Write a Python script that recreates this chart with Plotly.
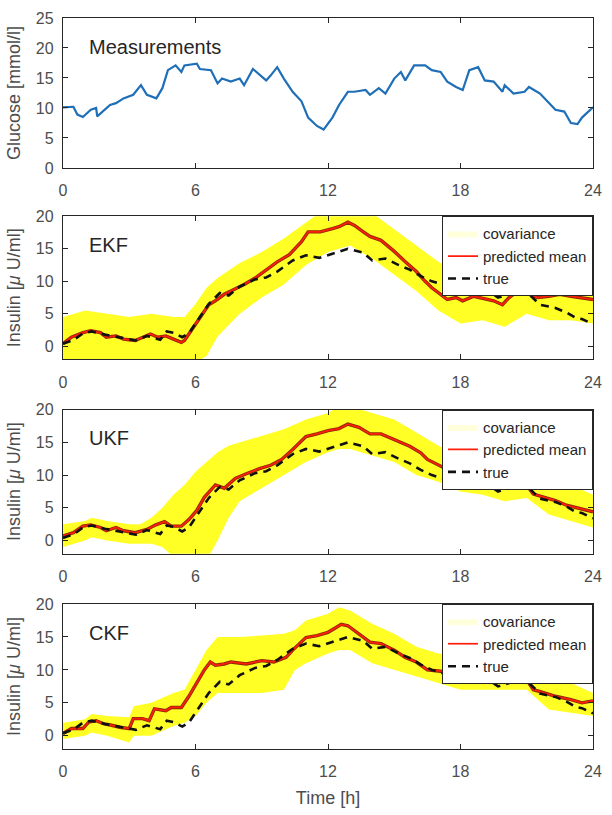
import plotly.graph_objects as go

# ---------------- data ----------------
x_ticks = [0, 6, 12, 18, 24]
x_tick_labels = ["0", "6", "12", "18", "24"]

glu_t = [0, 0.47, 0.65, 0.9, 1.26, 1.5, 1.55, 1.87, 2.13, 2.4, 2.74, 3.18, 3.53, 3.8, 4.23, 4.5, 4.75,
         5.1, 5.36, 5.5, 6.06, 6.2, 6.7, 7.0, 7.2, 7.6, 8.0, 8.2, 8.6, 9.2, 9.4, 9.7, 10.0, 10.4, 10.8,
         11.1, 11.5, 11.8, 12.2, 12.5, 12.9, 13.2, 13.7, 13.9, 14.3, 14.6, 15.0, 15.3, 15.5, 15.9, 16.4,
         16.7, 17.1, 17.4, 17.8, 18.1, 18.4, 18.8, 19.1, 19.5, 19.9, 20.0, 20.4, 20.9, 21.1, 21.6, 21.96,
         22.3, 22.7, 23.0, 23.3, 23.5, 24]
glucose = [10.1, 10.2, 8.9, 8.5, 9.7, 10.0, 8.6, 9.7, 10.5, 10.8, 11.6, 12.2, 13.8, 12.2, 11.6, 13.3, 16.3,
           17.1, 16.0, 17.1, 17.4, 16.5, 16.3, 14.1, 14.9, 14.4, 14.9, 13.8, 16.5, 14.6, 15.4, 16.8, 14.9, 12.7, 11.1,
           8.4, 7.0, 6.4, 8.4, 10.5, 12.7, 12.7, 13.0, 12.2, 13.3, 12.4, 14.9, 16.0, 14.6, 17.1, 17.1,
           16.3, 16.0, 14.4, 13.5, 13.0, 16.3, 16.8, 14.6, 14.4, 12.7, 13.8, 12.4, 12.7, 13.5, 12.4, 11.1,
           9.7, 9.4, 7.5, 7.3, 8.4, 10.1]

true_t = [0, 0.5, 0.9, 1.3, 1.9, 2.4, 2.8, 3.3, 3.8, 4.4, 4.7, 5.0, 5.4, 5.7, 6.2, 6.6, 7.1, 7.5, 8.0, 8.7,
          9.2, 9.7, 10.4, 11.0, 11.6, 12.2, 12.9, 13.6, 14.0, 14.6, 15.2, 15.7, 16.2, 16.7, 17.2, 17.6, 18.1, 18.6, 19.2, 19.7,
          20.2, 20.8, 21.1, 21.6, 22.3, 22.8, 23.2, 23.5, 24]
true_insulin = [0.4, 1.0, 2.0, 2.3, 1.8, 1.5, 1.3, 0.9, 1.6, 1.0, 2.3, 2.1, 1.4, 2.0, 4.5, 6.5, 8.2, 7.8, 9.2, 10.3,
                10.6, 11.5, 13.2, 14.0, 13.6, 14.2, 15.0, 14.4, 13.2, 13.5, 12.5, 11.8, 10.8, 10.0, 9.5, 8.6, 8.5, 9.0, 8.7, 7.5,
                8.0, 9.0, 8.0, 6.4, 5.9, 5.2, 4.4, 4.2, 3.4]

ekf_t = [0, 0.38, 0.9, 1.26, 1.7, 1.96, 2.4, 2.74, 3.27, 3.6, 3.96, 4.3, 4.66, 5.0, 5.36, 5.5, 5.9, 6.2, 6.6, 6.9,
         7.3, 7.6, 8.2, 8.7, 9.2, 9.7, 10.25, 10.8, 11.1, 11.65, 12.2, 12.5, 12.9, 13.2, 13.6, 13.9, 14.4, 15.0, 15.5, 16.0,
         16.4, 16.7, 17.1, 17.4, 17.8, 18.1, 18.6, 19.2, 19.5, 19.9, 20.2, 20.6, 20.8, 21.1, 21.5, 22.0, 22.5, 23.0, 23.5, 24]
ekf_mean = [0.4, 1.4, 2.1, 2.4, 2.1, 1.4, 1.6, 1.1, 0.9, 1.4, 1.9, 1.4, 1.6, 1.1, 0.6, 0.9, 2.9, 4.4, 6.4, 7.0,
            8.0, 8.5, 9.5, 10.5, 11.8, 13.0, 14.1, 16.1, 17.6, 17.6, 18.1, 18.4, 19.1, 18.6, 17.6, 16.9, 16.3, 14.6, 13.0, 11.5,
            10.0, 9.0, 8.0, 7.2, 7.5, 7.0, 7.7, 7.2, 7.0, 6.4, 7.5, 8.5, 9.2, 8.0, 7.5, 7.7, 8.0, 7.7, 7.5, 7.2]
ekf_band_t = [0, 1, 2, 3, 4, 5, 5.5, 6, 6.5, 7, 8, 9, 10, 11, 12, 13, 14, 15, 16, 17, 18, 19, 20, 21, 22, 23, 24]
ekf_upper = [4.5, 5.5, 5, 4.5, 5, 4.5, 4.5, 6.5, 9, 10.5, 12.8, 14.5, 16.6, 19, 21.5, 22.5, 20.5, 18, 15.5, 13,
             11, 10.5, 10, 12, 11, 11, 10.5]
ekf_lower = [-2.5, -2, -2, -2.5, -2, -2.5, -3, -2.5, -1.5, 1.5, 5, 7.5, 9.5, 12.5, 14.5, 15.5, 13.5, 11, 8.5, 5.5,
             3.5, 4, 3, 5, 4, 4, 3.5]

ukf_t = [0, 0.47, 0.9, 1.26, 1.7, 1.96, 2.4, 2.74, 3.27, 3.8, 4.2, 4.6, 4.9, 5.36, 5.7, 6.06, 6.4, 6.9, 7.3, 7.8,
         8.3, 8.9, 9.4, 9.9, 10.4, 11.0, 11.5, 12.0, 12.5, 12.9, 13.4, 13.9, 14.4, 15.0, 15.7, 16.2, 16.5, 17.2, 17.8, 18.3,
         18.8, 19.3, 19.9, 20.4, 20.8, 21.3, 21.8, 22.3, 22.8, 23.4, 24]
ukf_mean = [0.7, 1.2, 2.2, 2.4, 2.0, 1.5, 2.0, 1.5, 1.2, 1.7, 2.4, 2.9, 2.2, 2.2, 3.2, 4.6, 6.6, 8.5, 8.0, 9.5,
            10.2, 11.0, 11.5, 12.4, 13.9, 15.9, 16.3, 16.8, 17.1, 17.8, 17.3, 16.3, 16.3, 15.4, 14.4, 13.4, 12.4, 11.2, 10.7, 10.0,
            9.8, 9.3, 8.5, 8.8, 9.3, 7.1, 6.6, 6.1, 5.4, 4.9, 4.4]
ukf_band_t = [0, 1, 1.3, 2, 3, 3.5, 4, 4.5, 5, 5.5, 6, 6.5, 7, 7.5, 8, 9, 10, 11, 12, 12.5, 13, 14, 15, 16, 17, 18,
              19, 20, 21, 22, 23, 24]
ukf_upper = [2.5, 3, 3.5, 3, 2.5, 2.5, 3.5, 5, 7, 8.5, 10.5, 12, 13.5, 14.5, 15, 16, 17, 18.5, 19.5, 20.5, 20.5, 19.5,
             18.5, 16.5, 14.5, 13, 11.5, 11, 11.5, 9.5, 8.5, 7]
ukf_lower = [-1, 0, 0.5, 0, -0.5, -0.5, -0.5, -1, -2.5, -3, -3, -3, 0, 3.5, 6, 8, 10, 12, 13.5, 14, 14, 13,
             12, 10, 9, 7.5, 7, 6, 6.5, 4, 3, 2]

ckf_t = [0, 0.38, 0.9, 1.17, 1.5, 1.87, 2.2, 2.57, 3.0, 3.18, 3.6, 3.9, 4.14, 4.66, 4.9, 5.36, 5.7, 6.06, 6.4, 6.67,
         6.9, 7.3, 7.6, 8.3, 9.0, 9.55, 10.1, 10.4, 11.0, 11.5, 12.0, 12.35, 12.6, 12.9, 13.2, 13.7, 13.9, 14.4, 15.0, 15.5,
         16.0, 16.5, 17.1, 17.8, 18.5, 19.2, 19.7, 20.2, 20.8, 21.3, 21.8, 22.3, 23.0, 23.5, 24]
ckf_mean = [0.35, 1.1, 1.1, 2.1, 2.3, 1.8, 1.6, 1.3, 1.1, 2.6, 2.6, 2.3, 4.1, 3.8, 4.3, 4.3, 6.0, 8.0, 10.0, 11.2,
            10.7, 10.9, 11.2, 10.9, 11.4, 11.2, 11.9, 13.0, 14.9, 15.2, 15.7, 16.4, 16.9, 16.7, 15.9, 14.7, 14.2, 14.0, 13.0, 11.9,
            11.2, 10.0, 9.8, 9.3, 9.3, 8.8, 9.0, 8.5, 9.5, 7.0, 6.5, 6.0, 5.5, 5.0, 5.3]
ckf_band_t = [0, 1, 1.3, 2, 3, 3.2, 4, 5, 5.5, 6, 6.5, 7, 8, 9, 10, 10.5, 11, 12, 12.5, 13, 14, 15, 16, 17, 18, 19,
              20, 21, 22, 23, 24]
ckf_upper = [2, 2.5, 3.3, 3, 2.8, 4.5, 5, 6.5, 7, 10, 13, 15, 15, 15.2, 15.5, 16, 17.5, 18.5, 19.5, 19, 17, 15.5,
             13.5, 12.5, 12, 11.5, 11, 10.5, 9, 8, 6.5]
ckf_lower = [-0.5, 0, 0.5, 0, -1, 0, 0, 1.5, 2, 3, 5, 6.5, 6.5, 6.5, 7, 10, 11, 12.5, 13, 13, 11, 10,
             9, 8, 7, 7, 7, 7, 4, 3.5, 3]

panel_labels = ["Measurements", "EKF", "UKF", "CKF"]

# ---------------- styling ----------------
FONT = "Liberation Sans, Arial, sans-serif"
AXC = "#262626"
TXT = "#4d4d4d"
W, H = 612, 815
ML, MR, MT, MB = 63, 10, 16, 58
plot_h = H - MT - MB
tops = [16, 217, 413, 610]
bots = [168, 362, 559, 757]


def dom(top_px, bot_px):
    return [(H - MB - bot_px) / plot_h, (H - MB - top_px) / plot_h]


domains = [dom(t, b) for t, b in zip(tops, bots)]

fig = go.Figure()

fig.add_trace(go.Scatter(x=glu_t, y=glucose, mode="lines",
                         line=dict(color="#1f6fb8", width=2.2),
                         xaxis="x", yaxis="y", showlegend=False, hoverinfo="skip"))

filters = [
    (ekf_band_t, ekf_upper, ekf_lower, ekf_t, ekf_mean),
    (ukf_band_t, ukf_upper, ukf_lower, ukf_t, ukf_mean),
    (ckf_band_t, ckf_upper, ckf_lower, ckf_t, ckf_mean),
]

BAND = "rgba(255,255,20,0.92)"
for i, (bt, up, lo, mt, mv) in enumerate(filters):
    ax = str(i + 2)
    leg = "legend" if i == 0 else "legend%d" % (i + 1)
    # covariance band (drawn), legend entry supplied by a pale legend-only twin
    fig.add_trace(go.Scatter(x=list(bt) + list(bt)[::-1], y=list(up) + list(lo)[::-1],
                             fill="toself", fillcolor=BAND, line=dict(width=0, color=BAND), mode="lines",
                             name="covariance", xaxis="x" + ax, yaxis="y" + ax, legend=leg,
                             showlegend=False, legendgroup="cov" + ax, hoverinfo="skip"))
    fig.add_trace(go.Scatter(x=[None, None], y=[None, None], fill="toself",
                             fillcolor="rgba(255,255,60,0.18)", line=dict(width=0, color="rgba(255,255,60,0.18)"),
                             mode="lines", name="covariance", xaxis="x" + ax, yaxis="y" + ax, legend=leg,
                             legendgroup="cov" + ax, hoverinfo="skip"))
    # dark edge under the red mean line
    fig.add_trace(go.Scatter(x=mt, y=mv, mode="lines", line=dict(color="#8a2a05", width=3.4),
                             xaxis="x" + ax, yaxis="y" + ax, showlegend=False, hoverinfo="skip"))
    fig.add_trace(go.Scatter(x=mt, y=mv, mode="lines", line=dict(color="#ff1e0a", width=1.7),
                             name="predicted mean", xaxis="x" + ax, yaxis="y" + ax, legend=leg))
    fig.add_trace(go.Scatter(x=true_t, y=true_insulin, mode="lines",
                             line=dict(color="#111111", width=2.6, dash="8px,6px"),
                             name="true", xaxis="x" + ax, yaxis="y" + ax, legend=leg))

layout = dict(
    width=W, height=H,
    margin=dict(l=ML, r=MR, t=MT, b=MB),
    paper_bgcolor="white", plot_bgcolor="white",
    font=dict(family=FONT, color=TXT),
)

for i in range(4):
    sfx = "" if i == 0 else str(i + 1)
    xa = dict(domain=[0, 1], range=[0, 24], tickvals=x_ticks, ticktext=x_tick_labels,
              ticks="inside", ticklen=5, tickcolor=AXC, showline=True, linecolor=AXC, linewidth=1.3,
              mirror="ticks", showgrid=False, zeroline=False,
              tickfont=dict(size=16, color=TXT), anchor="y" + sfx, ticklabelstandoff=8)
    if i == 3:
        xa["title"] = dict(text="Time [h]", font=dict(size=18, color=TXT), standoff=12)
    ya = dict(domain=domains[i], ticks="inside", ticklen=5, tickcolor=AXC, showline=True,
              linecolor=AXC, linewidth=1.3, mirror="ticks", showgrid=False, zeroline=False,
              tickfont=dict(size=16, color=TXT), anchor="x" + sfx, ticklabelstandoff=5)
    if i == 0:
        ya.update(range=[0, 25], tickvals=[0, 5, 10, 15, 20, 25],
                  title=dict(text="Glucose [mmol/l]", font=dict(size=18, color=TXT), standoff=10))
    else:
        ya.update(range=[-2, 20], tickvals=[0, 5, 10, 15, 20],
                  title=dict(text="Insulin [<i>μ</i> U/ml]", font=dict(size=18, color=TXT), standoff=10))
    layout["xaxis" + sfx] = xa
    layout["yaxis" + sfx] = ya

for i in range(3):
    key = "legend" if i == 0 else "legend%d" % (i + 1)
    layout[key] = dict(x=1, xanchor="right", y=domains[i + 1][1], yanchor="top",
                       bgcolor="white", bordercolor=AXC, borderwidth=1,
                       font=dict(size=15, color="#262626", family=FONT),
                       itemwidth=30, tracegroupgap=0, traceorder="normal")

annotations = []
for i, lab in enumerate(panel_labels):
    sfx = "" if i == 0 else str(i + 1)
    annotations.append(dict(text=lab, xref="x%s domain" % sfx, yref="y%s domain" % sfx,
                            x=0.046, y=1 - 29 / (bots[i] - tops[i]), xanchor="left", yanchor="middle",
                            showarrow=False, font=dict(size=20, color="#262626", family=FONT)))
layout["annotations"] = annotations

fig.update_layout(**layout)
fig.write_html("out.html")
